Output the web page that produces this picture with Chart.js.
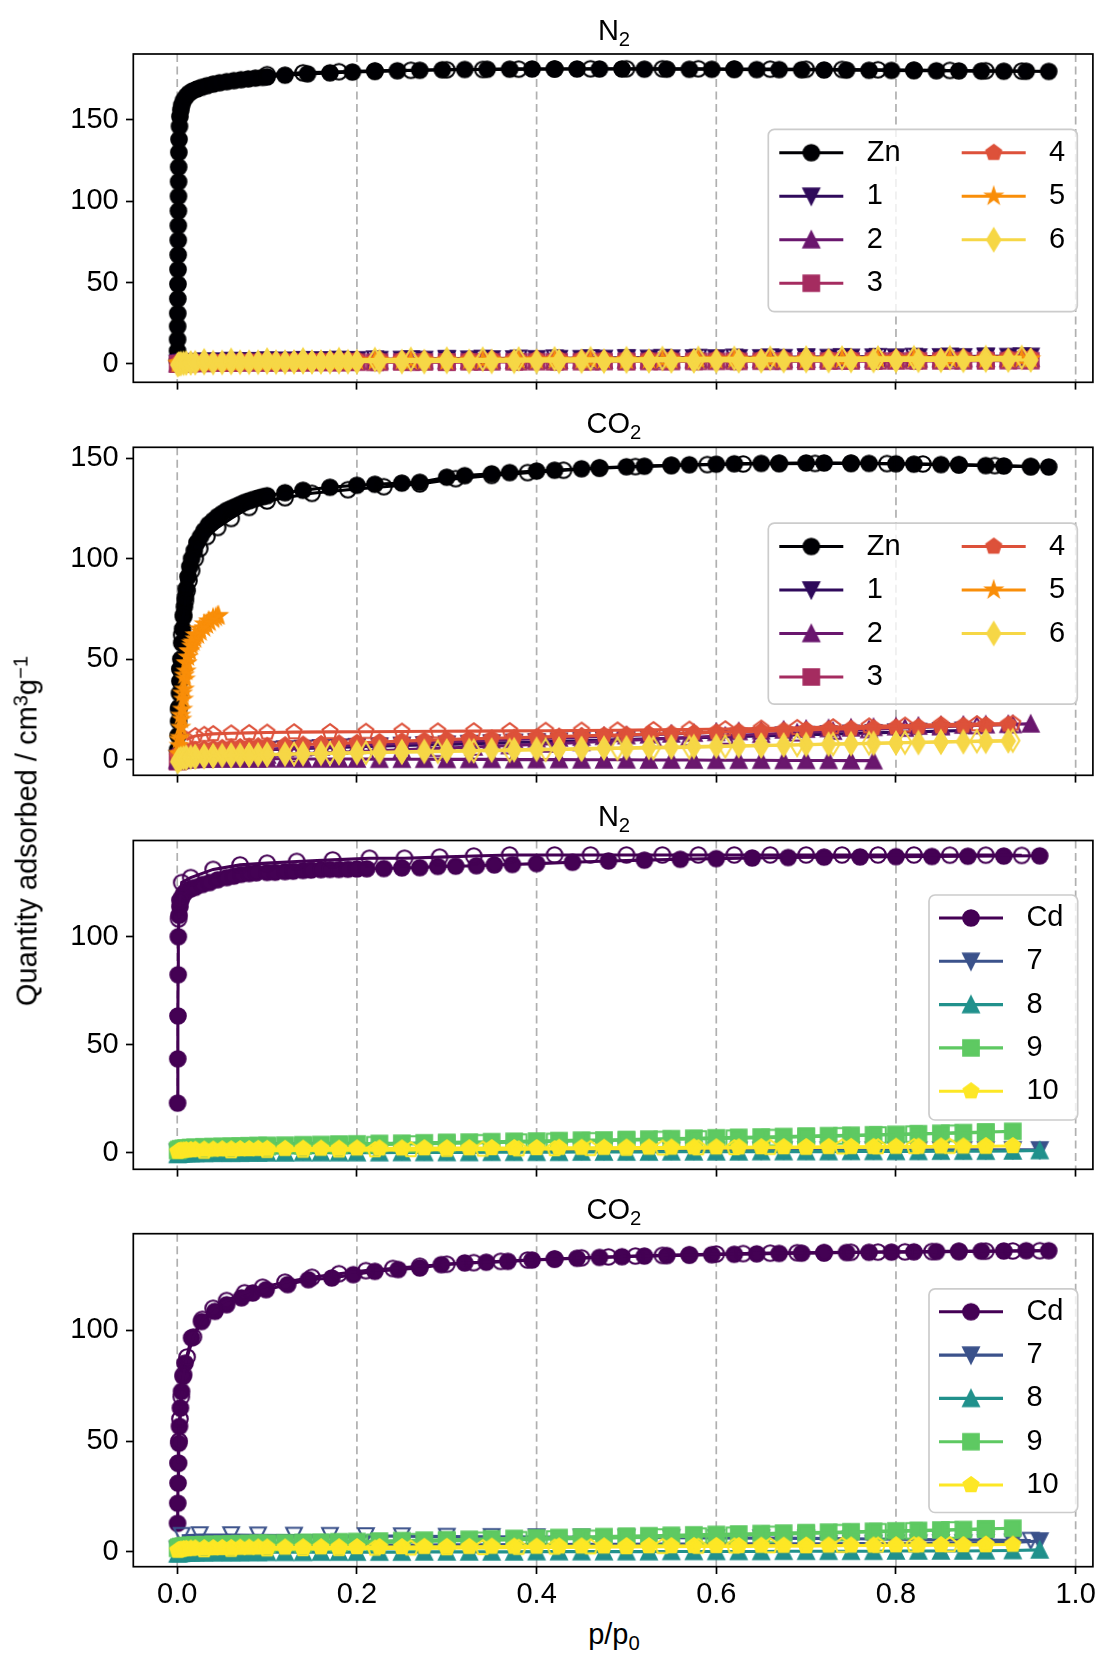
<!DOCTYPE html>
<html>
<head>
<meta charset="utf-8">
<script src="https://cdn.jsdelivr.net/npm/chart.js@4.4.1/dist/chart.umd.min.js"></script>
<style>
  body { margin: 0; background: #fff; width: 1104px; height: 1655px; position: relative; overflow: hidden;
         font-family: "Liberation Sans", Arial, sans-serif; }
  canvas { position: absolute; left: 0; }
  .lbl { position: absolute; font-size: 29px; line-height: 1; color: #000; white-space: nowrap; }
  .lbl sub { font-size: 0.7em; vertical-align: -0.28em; line-height: 0; }
  .lbl sup { font-size: 0.7em; vertical-align: 0.45em; line-height: 0; }
  .title { left: 414px; width: 400px; text-align: center; }
</style>
</head>
<body>
<canvas id="c1" width="1104" height="407" style="top:0px"></canvas>
<canvas id="c2" width="1104" height="390" style="top:410px"></canvas>
<canvas id="c3" width="1104" height="394" style="top:800px"></canvas>
<canvas id="c4" width="1104" height="421" style="top:1195px"></canvas>

<div class="lbl title" style="top:15.5px">N<sub>2</sub></div>
<div class="lbl title" style="top:408.8px">CO<sub>2</sub></div>
<div class="lbl title" style="top:802px">N<sub>2</sub></div>
<div class="lbl title" style="top:1195.2px">CO<sub>2</sub></div>
<div class="lbl" style="left:27px;top:831px;transform:translate(-50%,-50%) rotate(-90deg)">Quantity adsorbed / cm<sup>3</sup>g<sup>&minus;1</sup></div>
<div class="lbl" style="left:414px;width:400px;text-align:center;top:1619.5px">p/p<sub>0</sub></div>

<script>
// ---- axes / labels ----
const xTicks = [0, 0.2, 0.4, 0.6, 0.8, 1.0];
const yTicksZn = [0, 50, 100, 150];
const yTicksCd = [0, 50, 100];
const zincLabels = ['Zn', '1', '2', '3', '4', '5', '6'];
const cdLabels = ['Cd', '7', '8', '9', '10'];

// ---- panel 1: N2, Zn family ----
const znN2AdsP = [0.0002,0.0003,0.0004,0.0005,0.0006,0.0007,0.0008,0.0009,0.001,0.0011,0.0012,0.0013,0.0014,0.0015,0.0016,0.0018,0.002,0.0025,0.003,0.004,0.005,0.007,0.01,0.013,0.017,0.022,0.027,0.033,0.04,0.047,0.055,0.063,0.071,0.079,0.087,0.095,0.1,0.12,0.145,0.17,0.195,0.22,0.245,0.27,0.295,0.32,0.345,0.37,0.395,0.42,0.445,0.47,0.495,0.52,0.545,0.57,0.595,0.62,0.645,0.67,0.695,0.72,0.745,0.77,0.795,0.82,0.845,0.87,0.895,0.92,0.945,0.97];
const znN2AdsQ = [2,8,15,23,31,40,49,58,67,76,85,94,103,112,121,130,138,146,152,156,159,162,164.5,166.3,167.8,169,170,171,172,172.8,173.5,174.1,174.7,175.2,175.7,176.1,176.4,177.5,178.3,178.9,179.4,179.8,180.2,180.5,180.8,181,181.1,181.2,181.3,181.3,181.3,181.3,181.3,181.2,181.2,181.1,181.1,181,180.9,180.9,180.8,180.7,180.6,180.5,180.4,180.3,180.2,180.1,180,179.9,179.9,179.8];
const znN2DesP = [0.94,0.9,0.86,0.82,0.78,0.74,0.7,0.66,0.62,0.58,0.54,0.5,0.46,0.42,0.38,0.34,0.3,0.26,0.22,0.18,0.14,0.1];
const znN2DesQ = [180,180.2,180.4,180.6,180.8,181,181.1,181.2,181.3,181.4,181.4,181.4,181.4,181.3,181.2,181,180.8,180.5,180.1,179.6,178.9,177.8];

const zincLowAdsP = [0.0005,0.002,0.004,0.007,0.01,0.015,0.02,0.03,0.04,0.05,0.06,0.07,0.08,0.09,0.1,0.11,0.12,0.13,0.14,0.15,0.16,0.17,0.18,0.19,0.2,0.225,0.25,0.275,0.3,0.325,0.35,0.375,0.4,0.425,0.45,0.475,0.5,0.525,0.55,0.575,0.6,0.625,0.65,0.675,0.7,0.725,0.75,0.775,0.8,0.825,0.85,0.875,0.9,0.925,0.95];
const zincLowDesP = [0.94,0.9,0.86,0.82,0.78,0.74,0.7,0.66,0.62,0.58,0.54,0.5,0.46,0.42,0.38,0.34,0.3,0.26,0.22,0.18,0.14,0.1,0.06,0.03];

const s1N2AdsQ = [0.3,0.6,0.8,1,1.1,1.2,1.3,1.4,1.5,1.6,1.7,1.8,1.8,1.9,2,2,2.1,2.1,2.2,2.2,2.3,2.3,2.4,2.4,2.5,2.6,2.7,2.7,2.8,2.9,3,3,3.1,3.2,3.2,3.3,3.4,3.4,3.5,3.6,3.6,3.7,3.7,3.8,3.9,3.9,4,4.1,4.1,4.2,4.3,4.3,4.4,4.5,4.6];
const s1N2DesQ = [4.8,4.7,4.6,4.5,4.4,4.3,4.2,4.1,4,3.9,3.8,3.7,3.6,3.5,3.4,3.3,3.2,3,2.9,2.7,2.5,2.3,2,1.6];
const s2N2AdsQ = [0.2,0.4,0.6,0.7,0.8,0.9,1,1.1,1.2,1.3,1.3,1.4,1.4,1.5,1.5,1.6,1.6,1.7,1.7,1.8,1.8,1.8,1.9,1.9,2,2,2.1,2.1,2.2,2.2,2.3,2.3,2.4,2.4,2.5,2.5,2.6,2.6,2.7,2.7,2.8,2.8,2.9,2.9,3,3,3.1,3.1,3.2,3.2,3.3,3.3,3.4,3.4,3.5];
const s2N2DesQ = [3.7,3.6,3.5,3.4,3.3,3.2,3.1,3,2.9,2.8,2.7,2.6,2.5,2.4,2.3,2.2,2.1,2,1.9,1.8,1.7,1.5,1.3,1];
const s3N2AdsQ = [0,0.1,0.2,0.3,0.4,0.4,0.5,0.5,0.6,0.6,0.7,0.7,0.7,0.8,0.8,0.8,0.9,0.9,0.9,1,1,1,1,1.1,1.1,1.1,1.2,1.2,1.2,1.3,1.3,1.3,1.4,1.4,1.4,1.5,1.5,1.5,1.5,1.6,1.6,1.6,1.7,1.7,1.7,1.8,1.8,1.8,1.8,1.9,1.9,1.9,2,2,2];
const s3N2DesQ = [2.2,2.1,2.1,2,1.9,1.9,1.8,1.7,1.7,1.6,1.5,1.5,1.4,1.3,1.3,1.2,1.1,1.1,1,0.9,0.8,0.7,0.6,0.4];
const s4N2AdsQ = [0.4,0.7,0.9,1.1,1.2,1.3,1.4,1.6,1.7,1.8,1.9,2,2,2.1,2.2,2.2,2.3,2.3,2.4,2.4,2.5,2.5,2.6,2.6,2.7,2.7,2.8,2.8,2.9,2.9,3,3,3.1,3.1,3.2,3.2,3.2,3.3,3.3,3.4,3.4,3.4,3.5,3.5,3.6,3.6,3.6,3.7,3.7,3.8,3.8,3.9,3.9,4,4];
const s4N2DesQ = [4.3,4.2,4.1,4,3.9,3.8,3.7,3.6,3.5,3.4,3.3,3.2,3.1,3,2.9,2.8,2.7,2.6,2.5,2.4,2.2,2,1.8,1.4];
const s5N2AdsQ = [0.2,0.4,0.5,0.7,0.8,0.9,1,1.1,1.2,1.3,1.3,1.4,1.4,1.5,1.5,1.6,1.6,1.7,1.7,1.7,1.8,1.8,1.8,1.9,1.9,2,2,2.1,2.1,2.1,2.2,2.2,2.3,2.3,2.3,2.4,2.4,2.4,2.5,2.5,2.5,2.6,2.6,2.6,2.7,2.7,2.7,2.8,2.8,2.8,2.9,2.9,2.9,3,3];
const s5N2DesQ = [3.2,3.1,3,3,2.9,2.8,2.7,2.7,2.6,2.5,2.4,2.4,2.3,2.2,2.1,2,1.9,1.8,1.7,1.6,1.5,1.3,1.1,0.8];
const s6N2AdsQ = [-0.5,0,0.2,0.4,0.5,0.6,0.7,0.8,0.8,0.9,0.9,1,1,1,1.1,1.1,1.1,1.2,1.2,1.2,1.2,1.3,1.3,1.3,1.3,1.4,1.4,1.4,1.5,1.5,1.5,1.6,1.6,1.6,1.7,1.7,1.7,1.8,1.8,1.8,1.9,1.9,1.9,2,2,2,2.1,2.1,2.1,2.2,2.2,2.2,2.3,2.3,2.4];
const s6N2DesQ = [4,3.9,3.8,3.8,3.7,3.6,3.6,3.5,3.4,3.4,3.3,3.2,3.2,3.1,3,2.9,2.9,2.8,2.7,2.6,2.5,2.4,2.2,1.9];

// ---- panel 2: CO2, Zn family ----
const znCo2AdsP = [0.0005,0.001,0.0015,0.002,0.0025,0.003,0.0035,0.004,0.005,0.006,0.007,0.008,0.009,0.01,0.012,0.014,0.016,0.019,0.022,0.026,0.03,0.035,0.04,0.045,0.05,0.055,0.06,0.065,0.07,0.075,0.08,0.085,0.09,0.095,0.1,0.12,0.14,0.17,0.2,0.22,0.25,0.27,0.3,0.32,0.35,0.37,0.4,0.42,0.45,0.47,0.5,0.52,0.55,0.57,0.6,0.62,0.65,0.67,0.7,0.72,0.75,0.77,0.8,0.82,0.85,0.87,0.9,0.92,0.95,0.97];
const znCo2AdsQ = [5,12,19,26,33,39,45,50,58,65,71,76,81,85,91,96,100,104,108,111,114,117,119,121,122.5,124,125,126,127,128,128.8,129.5,130.2,130.8,131.3,132.8,134,135.5,136.5,137,137.6,138,140.5,141.3,142.2,142.8,143.6,144,144.7,145.2,145.7,146,146.4,146.7,147,147.2,147.4,147.5,147.6,147.6,147.5,147.4,147.2,147,146.8,146.6,146.3,146.1,145.8,145.6];
const znCo2DesP = [0.95,0.91,0.87,0.83,0.79,0.75,0.71,0.67,0.63,0.59,0.55,0.51,0.47,0.43,0.39,0.35,0.31,0.27,0.23,0.19,0.15,0.12,0.1,0.08,0.06,0.045,0.033,0.025,0.02,0.016,0.013,0.011,0.009,0.007,0.005,0.003,0.0015];
const znCo2DesQ = [145.8,146.3,146.8,147.1,147.3,147.4,147.4,147.3,147.1,146.8,146.4,145.8,145,144,142.8,141.4,139.8,137.2,135.8,134.3,132.5,130.3,128.7,125.5,120,115.5,111,105,100,94,89,84,79,72,62,45,25];

const zincCo2LowAdsP = [0.0005,0.002,0.004,0.007,0.01,0.015,0.02,0.03,0.04,0.05,0.06,0.07,0.08,0.09,0.1,0.12,0.14,0.16,0.18,0.2,0.225,0.25,0.275,0.3,0.325,0.35,0.375,0.4,0.425,0.45,0.475,0.5,0.525,0.55,0.575,0.6,0.625,0.65,0.675,0.7,0.725,0.75,0.775,0.8,0.825,0.85,0.875,0.9,0.925,0.95];
const zincCo2LowDesP = [0.93,0.89,0.85,0.81,0.77,0.73,0.69,0.65,0.61,0.57,0.53,0.49,0.45,0.41,0.37,0.33,0.29,0.25,0.21,0.17,0.13,0.1,0.08,0.06,0.04,0.03,0.02,0.01];

const s1Co2AdsQ = [0.5,1,1.5,2,2.3,2.6,2.9,3.3,3.6,3.9,4.1,4.3,4.5,4.7,4.9,5.2,5.5,5.8,6.1,6.4,6.7,7,7.3,7.6,7.9,8.2,8.5,8.8,9.1,9.4,9.7,10,10.3,10.6,10.9,11.2,11.5,11.8,12.1,12.4,12.7,13,13.3,13.6,13.9,14.2,14.5];
const s2Co2AdsQ = [0,0.3,0.6,0.9,1.2,1.6,2,2.5,3,3.4,3.8,4.2,4.5,4.8,5.1,5.6,6,6.4,6.8,7.2,7.6,8,8.4,8.8,9.2,9.6,10,10.4,10.8,11.2,11.6,12,12.4,12.8,13.2,13.6,14,14.4,14.8,15.2,15.5,15.8,16.1,16.4,16.7,17,17.2,17.4,17.6,17.8];
const s2Co2Ads2Q = [-0.5,-0.3,-0.2,0,0.1,0.2,0.3,0.3,0.4,0.4,0.4,0.4,0.4,0.4,0.4,0.4,0.3,0.3,0.3,0.3,0.2,0.2,0.2,0.1,0.1,0.1,0,0,0,-0.1,-0.1,-0.1,-0.2,-0.2,-0.2,-0.3,-0.3,-0.3,-0.4,-0.4,-0.4,-0.5,-0.5];
const s2Co2DesQ = [17.5,17,16.4,15.7,15,14.2,13.4,12.6,11.8,11,10.2,9.4,8.6,7.8,7,6.3,5.6,4.9,4.2,3.5,2.8,2.3,2,1.7,1.4,1.1,0.8,0.5];
const s3Co2AdsQ = [-1,-0.6,-0.3,0,0.1,0.2,0.2,0.3];
const s4Co2AdsQ = [2,3,3.5,4,4.3,4.6,4.9,5.3,5.6,5.9,6.1,6.3,6.5,6.7,6.9,7.2,7.5,7.8,8.1,8.4,8.8,9.2,9.6,10,10.3,10.6,10.9,11.2,11.5,11.8,12.1,12.4,12.7,13,13.3,13.6,13.9,14.2,14.5,14.8,15.1,15.4,15.7,16,16.3,16.6,16.9,17.2,17.5];
const s4Co2DesQ = [18,17.7,17.4,17,16.6,16.2,15.8,15.5,15.2,15,14.8,14.6,14.5,14.4,14.3,14.2,14.1,14,13.9,13.8,13.7,13.5,13.3,13.1,12.8,12.4,11.8,10];
const s5Co2AdsP = [0.001,0.002,0.003,0.004,0.005,0.006,0.007,0.008,0.009,0.01,0.011,0.012,0.014,0.016,0.018,0.02,0.023,0.026,0.03,0.033,0.036,0.04,0.043,0.046];
const s5Co2AdsQ = [3,7,11,16,20,25,30,35,40,44,48,51,54,56.5,58.5,60,62,63.5,65.5,67,68.3,69.8,70.8,71.6];
const s5Co2DesP = [0.045,0.04,0.035,0.03,0.025,0.02,0.016,0.013,0.01,0.008,0.006,0.004,0.002];
const s5Co2DesQ = [71.5,70.5,69,67.5,65,62,58,54,48,42,33,22,10];
const s6Co2AdsQ = [-1,0,0.5,0.8,1,1.2,1.4,1.6,1.8,2,2.1,2.2,2.3,2.4,2.5,2.7,2.9,3.1,3.3,3.5,3.7,3.9,4.1,4.3,4.5,4.7,4.9,5.1,5.3,5.5,5.7,5.9,6.1,6.3,6.5,6.7,6.9,7.1,7.3,7.5,7.7,7.9,8.1,8.3,8.5,8.7,8.9,9.1,9.3];
const s6Co2DesQ = [9.5,9.2,8.9,8.5,8.1,7.7,7.3,6.9,6.5,6.1,5.8,5.5,5.2,4.9,4.6,4.3,4,3.7,3.4,3.1,2.8,2.5,2.3,2.1,1.8,1.6,1.3,1];

// ---- panel 3: N2, Cd family ----
const cdN2AdsP = [0.0004,0.0006,0.0008,0.001,0.0012,0.002,0.003,0.004,0.006,0.008,0.011,0.015,0.02,0.028,0.036,0.045,0.055,0.063,0.071,0.08,0.088,0.1,0.109,0.12,0.129,0.14,0.149,0.16,0.17,0.18,0.19,0.2,0.211,0.23,0.25,0.27,0.29,0.31,0.333,0.353,0.373,0.4,0.44,0.48,0.52,0.56,0.6,0.64,0.68,0.72,0.76,0.8,0.84,0.88,0.92,0.96];
const cdN2AdsQ = [23,43.5,63.4,82.5,100.1,110,114,117,119,120.5,121.5,122.3,123,124.3,125.2,126.5,127.5,128.2,129,129.4,129.7,129.9,130,130.3,130.5,130.8,131,131.2,131.3,131.3,131.4,131.5,131.6,131.7,132,132.1,132.7,132.8,133,133.4,133.6,134,134.6,135.2,135.6,136,136.3,136.6,136.8,137,137.1,137.2,137.3,137.4,137.5,137.6];
const cdN2DesP = [0.94,0.9,0.86,0.82,0.78,0.74,0.7,0.66,0.62,0.58,0.54,0.5,0.46,0.42,0.37,0.33,0.292,0.253,0.214,0.173,0.133,0.1,0.07,0.04,0.015,0.005,0.003,0.0015];
const cdN2DesQ = [137.8,137.9,137.9,138,138,138,138,138,138,138,138,138,138,138,138,137.5,137,136.5,136.5,135.7,135,134.2,133.4,131.3,127.5,125.2,117,108.4];

const cdLowAdsP = [0.0005,0.002,0.004,0.007,0.01,0.015,0.02,0.03,0.04,0.05,0.06,0.07,0.08,0.09,0.1,0.12,0.14,0.16,0.18,0.2,0.225,0.25,0.275,0.3,0.325,0.35,0.375,0.4,0.425,0.45,0.475,0.5,0.525,0.55,0.575,0.6,0.625,0.65,0.675,0.7,0.725,0.75,0.775,0.8,0.825,0.85,0.875,0.9,0.93,0.96];
const cdLowDesP = [0.9,0.86,0.82,0.78,0.74,0.7,0.66,0.62,0.58,0.54,0.5,0.46,0.42,0.38,0.34,0.3,0.26,0.22,0.18,0.14,0.1,0.06,0.03];

const s7N2AdsQ = [0.2,0.3,0.4,0.5,0.5,0.6,0.6,0.6,0.7,0.7,0.7,0.7,0.8,0.8,0.8,0.8,0.8,0.9,0.9,0.9,0.9,0.9,0.9,1,1,1,1,1,1,1,1,1.1,1.1,1.1,1.1,1.1,1.1,1.1,1.2,1.2,1.2,1.2,1.2,1.2,1.2,1.3,1.3,1.3,1.3,1.3];
const s8N2AdsQ = [-0.8,-0.6,-0.5,-0.4,-0.4,-0.3,-0.3,-0.3,-0.2,-0.2,-0.2,-0.2,-0.1,-0.1,-0.1,-0.1,0,0,0,0,0,0.1,0.1,0.1,0.1,0.2,0.2,0.2,0.2,0.3,0.3,0.3,0.3,0.4,0.4,0.4,0.4,0.5,0.5,0.5,0.5,0.6,0.6,0.6,0.6,0.7,0.7,0.7,0.8,1];
const s9N2AdsQ = [1,1.5,1.8,2,2.2,2.4,2.5,2.7,2.8,2.9,3,3.1,3.2,3.3,3.4,3.5,3.7,3.8,4,4.1,4.3,4.4,4.6,4.8,4.9,5.1,5.3,5.4,5.6,5.8,5.9,6.1,6.3,6.5,6.7,6.9,7.1,7.3,7.5,7.7,7.9,8.1,8.3,8.5,8.8,9,9.3,9.6,9.9];
const s9N2DesQ = [9.4,9,8.6,8.2,7.8,7.4,7,6.7,6.4,6.1,5.8,5.5,5.2,4.9,4.6,4.3,4,3.7,3.4,3.1,2.8,2.4,2];
const s10N2AdsQ = [0.5,0.8,1,1.1,1.2,1.3,1.4,1.5,1.5,1.6,1.6,1.7,1.7,1.8,1.8,1.8,1.9,1.9,1.9,2,2,2,2.1,2.1,2.1,2.2,2.2,2.2,2.3,2.3,2.3,2.4,2.4,2.4,2.5,2.5,2.5,2.6,2.6,2.6,2.7,2.7,2.7,2.8,2.8,2.9,2.9,3,3.1];
const s10N2DesQ = [2.9,2.8,2.7,2.6,2.5,2.4,2.3,2.2,2.1,2,1.9,1.8,1.7,1.6,1.5,1.4,1.3,1.2,1.1,1,0.9,0.7,0.5];

// ---- panel 4: CO2, Cd family ----
const cdCo2AdsP = [0.0003,0.0006,0.0009,0.0012,0.0017,0.0025,0.0035,0.0048,0.0065,0.0087,0.016,0.027,0.042,0.055,0.0715,0.084,0.099,0.123,0.146,0.172,0.196,0.22,0.246,0.27,0.294,0.32,0.344,0.368,0.395,0.42,0.445,0.47,0.495,0.52,0.545,0.57,0.595,0.62,0.645,0.67,0.695,0.72,0.745,0.77,0.795,0.82,0.845,0.87,0.895,0.92,0.945,0.97];
const cdCo2AdsQ = [12.8,21.9,31,40,49,56.6,64.9,72.4,79.2,85.2,96.6,104,108.6,111.6,114.7,116.9,118.4,120.7,122.9,123.7,125.2,126.7,127.5,128.2,129.7,130.5,130.8,131.2,131.8,132.2,132.6,133,133.3,133.6,133.8,134,134.2,134.4,134.6,134.8,134.9,135,135.2,135.3,135.4,135.5,135.6,135.7,135.8,135.9,136,136];
const cdCo2DesP = [0.96,0.93,0.9,0.87,0.84,0.81,0.78,0.75,0.72,0.69,0.66,0.63,0.6,0.57,0.54,0.51,0.48,0.45,0.42,0.39,0.36,0.33,0.3,0.27,0.24,0.21,0.18,0.15,0.12,0.095,0.075,0.055,0.04,0.028,0.018,0.011,0.007,0.0045,0.003,0.002,0.0012];
const cdCo2DesQ = [136,135.9,135.8,135.7,135.6,135.5,135.4,135.3,135.2,135.1,134.9,134.7,134.5,134.2,133.9,133.6,133.2,132.8,132.3,131.8,131.2,130.6,129.9,129,128,127,125.6,124,121.8,119.5,117,113.5,110,105,97,88,80,70,60,50,40];

const s7Co2AdsQ = [1,1.5,1.8,2,2.1,2.2,2.3,2.4,2.5,2.5,2.6,2.6,2.7,2.7,2.7,2.8,2.8,2.9,2.9,2.9,3,3,3,3.1,3.1,3.1,3.2,3.2,3.2,3.3,3.3,3.3,3.4,3.4,3.4,3.5,3.5,3.5,3.6,3.6,3.6,3.7,3.7,3.8,3.8,3.9,3.9,4,4.2,4.8];
const s7Co2DesP = [0.95,0.9,0.85,0.8,0.75,0.7,0.65,0.6,0.55,0.5,0.45,0.4,0.35,0.3,0.25,0.21,0.17,0.13,0.09,0.06,0.025,0.005];
const s7Co2DesQ = [5,5.2,5.4,5.6,5.8,6,6.1,6.2,6.3,6.4,6.5,6.6,6.7,6.8,7,7.1,7.2,7.3,7.4,7.5,7.5,7.2];
const s8Co2AdsQ = [-1,-0.8,-0.7,-0.6,-0.6,-0.5,-0.5,-0.5,-0.4,-0.4,-0.4,-0.4,-0.3,-0.3,-0.3,-0.3,-0.3,-0.2,-0.2,-0.2,-0.2,-0.2,-0.1,-0.1,-0.1,-0.1,-0.1,0,0,0,0,0,0,0.1,0.1,0.1,0.1,0.1,0.2,0.2,0.2,0.2,0.2,0.3,0.3,0.3,0.3,0.4,0.5,0.8];
const s9Co2AdsQ = [1.5,2,2.3,2.5,2.7,2.9,3,3.2,3.3,3.4,3.5,3.6,3.7,3.8,3.9,4,4.2,4.3,4.5,4.6,4.8,5,5.2,5.4,5.6,5.8,6,6.2,6.4,6.6,6.8,7,7.2,7.4,7.6,7.8,8,8.2,8.4,8.6,8.8,9,9.2,9.4,9.6,9.8,10,10.3,10.6];
const s9Co2DesQ = [10.2,9.8,9.4,9,8.6,8.2,7.8,7.4,7,6.6,6.3,6,5.7,5.4,5.1,4.8,4.5,4.2,3.9,3.6,3.3,2.9,2.4];
const s10Co2AdsQ = [0.5,0.8,1,1.2,1.3,1.4,1.5,1.6,1.6,1.7,1.7,1.8,1.8,1.9,1.9,1.9,2,2,2,2.1,2.1,2.1,2.2,2.2,2.2,2.3,2.3,2.3,2.4,2.4,2.4,2.5,2.5,2.5,2.6,2.6,2.6,2.7,2.7,2.7,2.8,2.8,2.8,2.9,2.9,3,3,3.1,3.2];
const s10Co2DesQ = [3.1,3,2.9,2.8,2.7,2.6,2.5,2.4,2.3,2.2,2.1,2,1.9,1.8,1.7,1.6,1.5,1.4,1.3,1.2,1.1,0.9,0.7];

// ---- styling ----
const zincColors = ['#000004', '#2f0a5b', '#6a176e', '#a52c60', '#dd513a', '#f98e09', '#f6d746'];
const zincShapes = ['circle', 'triDown', 'triUp', 'square', 'pentagon', 'star', 'thinDiamond'];
const cdColors = ['#440154', '#3b528b', '#21918c', '#5ec962', '#fde725'];
const cdShapes = ['circle', 'triDown', 'triUp', 'square', 'pentagon'];
const FONT = { family: '"Liberation Sans", Arial, sans-serif', size: 29 };
const X_MIN = -0.0489, X_MAX = 1.0192;
const MS = 15.6, MEW = 2.1, LW = 3.1;

// matplotlib-like marker sprites, used as Chart.js point styles
function makeMarker(shape, color, filled) {
  const s = 34, c = document.createElement('canvas');
  c.width = s; c.height = s;
  const g = c.getContext('2d');
  const h = MS / 2;
  g.translate(s / 2, s / 2);
  g.beginPath();
  if (shape === 'circle') {
    g.arc(0, 0, h, 0, Math.PI * 2);
  } else if (shape === 'square') {
    g.rect(-h, -h, 2 * h, 2 * h);
  } else if (shape === 'triUp') {
    g.moveTo(0, -h); g.lineTo(h, h); g.lineTo(-h, h); g.closePath();
  } else if (shape === 'triDown') {
    g.moveTo(0, h); g.lineTo(h, -h); g.lineTo(-h, -h); g.closePath();
  } else if (shape === 'pentagon') {
    for (let k = 0; k < 5; k++) {
      const a = -Math.PI / 2 + k * 2 * Math.PI / 5;
      k ? g.lineTo(h * Math.cos(a), h * Math.sin(a)) : g.moveTo(h * Math.cos(a), h * Math.sin(a));
    }
    g.closePath();
  } else if (shape === 'star') {
    for (let k = 0; k < 10; k++) {
      const a = -Math.PI / 2 + k * Math.PI / 5, r = k % 2 ? h * 0.382 : h;
      k ? g.lineTo(r * Math.cos(a), r * Math.sin(a)) : g.moveTo(r * Math.cos(a), r * Math.sin(a));
    }
    g.closePath();
  } else if (shape === 'thinDiamond') {
    const dy = h * 1.414, dx = dy * 0.6;
    g.moveTo(0, -dy); g.lineTo(dx, 0); g.lineTo(0, dy); g.lineTo(-dx, 0); g.closePath();
  }
  g.lineWidth = MEW;
  g.strokeStyle = color;
  if (filled) { g.fillStyle = color; g.fill(); }
  g.stroke();
  return c;
}

function pts(p, q) {
  const n = Math.min(p.length, q.length), out = [];
  for (let i = 0; i < n; i++) out.push({ x: p[i], y: q[i] });
  return out;
}

function branch(p, q, color, shape, filled) {
  return {
    data: pts(p, q), showLine: true, borderColor: color, backgroundColor: color, borderWidth: LW,
    pointStyle: makeMarker(shape, color, filled), pointRadius: 8, pointHoverRadius: 8, clip: 0
  };
}

const gridPlugin = {
  id: 'dashGrid',
  beforeDatasetsDraw(chart) {
    const { ctx, chartArea: a, scales: { x } } = chart;
    ctx.save();
    ctx.strokeStyle = '#b0b0b0'; ctx.lineWidth = 1.7; ctx.setLineDash([8, 4.5]);
    xTicks.forEach(v => {
      const px = x.getPixelForValue(v);
      ctx.beginPath(); ctx.moveTo(px, a.top); ctx.lineTo(px, a.bottom); ctx.stroke();
    });
    ctx.restore();
  }
};

function framePlugin(labels, colors, shapes, box) {
  return {
    id: 'frameLegend',
    afterDatasetsDraw(chart) {
      const { ctx, chartArea: a } = chart;
      ctx.save();
      ctx.strokeStyle = '#000'; ctx.lineWidth = 1.7;
      ctx.strokeRect(a.left, a.top, a.right - a.left, a.bottom - a.top);
      // legend box
      const L = box.left, T = a.top + box.dy, r = 6;
      ctx.beginPath();
      ctx.roundRect(L, T, box.w, box.h, r);
      ctx.fillStyle = 'rgba(255,255,255,0.8)'; ctx.fill();
      ctx.strokeStyle = '#cccccc'; ctx.lineWidth = 1.7; ctx.stroke();
      ctx.font = '29px "Liberation Sans", Arial, sans-serif';
      ctx.textBaseline = 'middle';
      labels.forEach((lab, i) => {
        const col = Math.floor(i / box.rows), row = i % box.rows;
        const x0 = L + box.colX[col], y = T + box.first + row * box.rowH;
        ctx.strokeStyle = colors[i]; ctx.lineWidth = LW;
        ctx.beginPath(); ctx.moveTo(x0, y); ctx.lineTo(x0 + 64, y); ctx.stroke();
        ctx.drawImage(makeMarker(shapes[i], colors[i], true), x0 + 32 - 17, y - 17);
        ctx.fillStyle = '#000';
        ctx.fillText(lab, x0 + 87.4, y);
      });
      ctx.restore();
    }
  };
}

function makeChart(id, series, colors, shapes, labels, ax) {
  const datasets = series.map(s => branch(s[0], s[1], colors[s[2]], shapes[s[2]], s[3]));
  datasets.forEach((d, i) => { d.order = datasets.length - i; });
  const tickGrid = { display: true, drawOnChartArea: false, drawTicks: true, tickLength: 7.3, tickColor: '#000', tickWidth: 1.7 };
  new Chart(document.getElementById(id), {
    type: 'scatter',
    data: { datasets },
    options: {
      responsive: false, animation: false, devicePixelRatio: 1, events: [],
      layout: { padding: { left: 0, right: 9.4, top: ax.padTop, bottom: 0 } },
      plugins: { legend: { display: false }, tooltip: { enabled: false } },
      scales: {
        x: {
          type: 'linear', min: X_MIN, max: X_MAX,
          afterFit: s => { s.height = ax.xh; },
          afterBuildTicks: s => { s.ticks = xTicks.map(v => ({ value: v })); },
          grid: tickGrid, border: { display: false },
          ticks: { display: ax.showX, font: FONT, color: '#000', padding: 4, maxRotation: 0,
                   callback: v => Number(v).toFixed(1) }
        },
        y: {
          type: 'linear', min: ax.yMin, max: ax.yMax,
          afterFit: s => { s.width = 133.3; },
          afterBuildTicks: s => { s.ticks = ax.yTicks.map(v => ({ value: v })); },
          grid: tickGrid, border: { display: false },
          ticks: { font: FONT, color: '#000', padding: 7.3, callback: v => String(v) }
        }
      }
    },
    plugins: [gridPlugin, framePlugin(labels, colors, shapes, ax.legend)]
  });
}

const zincLegend = (dy, h) => ({ left: 768.3, dy, w: 309, h, rows: 4, first: 23.4, rowH: 43.5, colX: [11, 193.4] });
const cdLegend = (dy, h) => ({ left: 929, dy, w: 148.7, h, rows: 5, first: 23, rowH: 43.3, colX: [10] });

makeChart('c1', [
  [znN2AdsP, znN2AdsQ, 0, true], [znN2DesP, znN2DesQ, 0, false],
  [zincLowAdsP, s1N2AdsQ, 1, true], [zincLowDesP, s1N2DesQ, 1, false],
  [zincLowAdsP, s2N2AdsQ, 2, true], [zincLowDesP, s2N2DesQ, 2, false],
  [zincLowAdsP, s3N2AdsQ, 3, true], [zincLowDesP, s3N2DesQ, 3, false],
  [zincLowAdsP, s4N2AdsQ, 4, true], [zincLowDesP, s4N2DesQ, 4, false],
  [zincLowAdsP, s5N2AdsQ, 5, true], [zincLowDesP, s5N2DesQ, 5, false],
  [zincLowAdsP, s6N2AdsQ, 6, true], [zincLowDesP, s6N2DesQ, 6, false]
], zincColors, zincShapes, zincLabels,
  { padTop: 54, xh: 20, yMin: -11.3, yMax: 190.5, yTicks: yTicksZn, showX: false, legend: zincLegend(75.3, 182.4) });

makeChart('c2', [
  [znCo2AdsP, znCo2AdsQ, 0, true], [znCo2DesP, znCo2DesQ, 0, false],
  [zincCo2LowAdsP, s1Co2AdsQ, 1, true],
  [zincCo2LowAdsP, s3Co2AdsQ, 3, true],
  [zincCo2LowAdsP, s2Co2Ads2Q, 2, true], [zincCo2LowAdsP, s2Co2AdsQ, 2, true], [zincCo2LowDesP, s2Co2DesQ, 2, false],
  [zincCo2LowAdsP, s4Co2AdsQ, 4, true], [zincCo2LowDesP, s4Co2DesQ, 4, false],
  [s5Co2AdsP, s5Co2AdsQ, 5, true], [s5Co2DesP, s5Co2DesQ, 5, false],
  [zincCo2LowAdsP, s6Co2AdsQ, 6, true], [zincCo2LowDesP, s6Co2DesQ, 6, false]
], zincColors, zincShapes, zincLabels,
  { padTop: 37.3, xh: 19.7, yMin: -7.8, yMax: 155.4, yTicks: yTicksZn, showX: false, legend: zincLegend(75.8, 181) });

makeChart('c3', [
  [cdN2AdsP, cdN2AdsQ, 0, true], [cdN2DesP, cdN2DesQ, 0, false],
  [cdLowAdsP, s7N2AdsQ, 1, true],
  [cdLowAdsP, s8N2AdsQ, 2, true],
  [cdLowAdsP, s9N2AdsQ, 3, true], [cdLowDesP, s9N2DesQ, 3, false],
  [cdLowAdsP, s10N2AdsQ, 4, true], [cdLowDesP, s10N2DesQ, 4, false]
], cdColors, cdShapes, cdLabels,
  { padTop: 40.5, xh: 20.5, yMin: -7.7, yMax: 144.7, yTicks: yTicksCd, showX: false, legend: cdLegend(54.5, 225) });

makeChart('c4', [
  [cdCo2AdsP, cdCo2AdsQ, 0, true], [cdCo2DesP, cdCo2DesQ, 0, false],
  [cdLowAdsP, s7Co2AdsQ, 1, true], [s7Co2DesP, s7Co2DesQ, 1, false],
  [cdLowAdsP, s8Co2AdsQ, 2, true],
  [cdLowAdsP, s9Co2AdsQ, 3, true], [cdLowDesP, s9Co2DesQ, 3, false],
  [cdLowAdsP, s10Co2AdsQ, 4, true], [cdLowDesP, s10Co2DesQ, 4, false]
], cdColors, cdShapes, cdLabels,
  { padTop: 38.7, xh: 49.3, yMin: -6.8, yMax: 143.7, yTicks: yTicksCd, showX: true, legend: cdLegend(55.1, 223.7) });
</script>
</body>
</html>
